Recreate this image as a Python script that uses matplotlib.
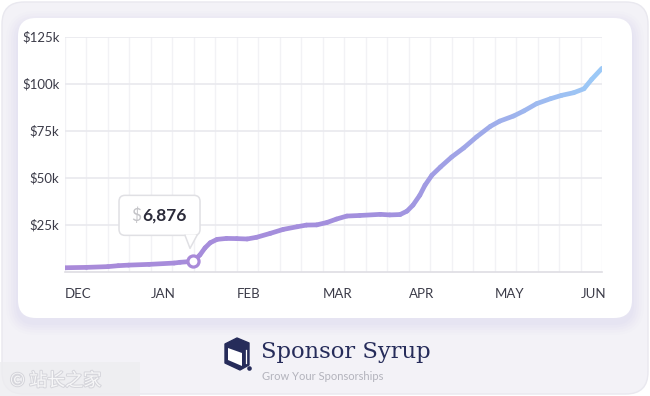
import numpy as np
import matplotlib
matplotlib.use("Agg")
import matplotlib.pyplot as plt
from matplotlib.collections import LineCollection
from matplotlib.colors import LinearSegmentedColormap
from matplotlib.patches import FancyBboxPatch, Polygon, Rectangle, Circle
import matplotlib.patheffects as pe

# months since Dec 1, sponsorship revenue ($)
months = [0.00, 0.25, 0.50, 0.62, 0.74, 0.98, 1.27, 1.34, 1.49,
          1.57, 1.63, 1.69, 1.77, 1.88, 2.00, 2.12, 2.23, 2.39, 2.54, 2.70,
          2.81, 2.93, 3.05, 3.16, 3.28, 3.43, 3.67, 3.78, 3.90, 3.98, 4.05,
          4.13, 4.19, 4.27, 4.37, 4.50, 4.64, 4.79, 4.95, 5.06, 5.22, 5.34,
          5.49, 5.65, 5.78, 5.92, 6.04, 6.13, 6.25]
revenue = [2100, 2300, 2700, 3200, 3500, 3900, 4600, 5000, 5500,
           8900, 12700, 15400, 17200, 17700, 17600, 17400, 18300, 20400, 22500, 23900,
           24800, 24900, 26200, 28000, 29600, 29900, 30500, 30200, 30400, 32200, 35400,
           40700, 46000, 51300, 55700, 61000, 65800, 71700, 77300, 80100, 82800, 85500,
           89400, 92000, 93800, 95200, 97300, 102300, 108200]
month_labels = ["DEC", "JAN", "FEB", "MAR", "APR", "MAY", "JUN"]
y_ticks = [25000, 50000, 75000, 100000, 125000]
y_labels = ["$25k", "$50k", "$75k", "$100k", "$125k"]
hl_idx = 8
hl_text = "6,876"

W, H = 650, 396
fig = plt.figure(figsize=(W / 100, H / 100), dpi=100, facecolor="white")

# background, card, logo (pixel coords)
bg = fig.add_axes([0, 0, 1, 1], zorder=0)
bg.set_xlim(0, W)
bg.set_ylim(H, 0)
bg.axis("off")
bg.add_patch(FancyBboxPatch((2, 2), W - 4, H - 4, boxstyle="round,pad=0,rounding_size=22",
                            fc="#f3f2f7", ec="#e9e8ef", lw=1))
for i, a in enumerate([0.04, 0.05, 0.06, 0.07, 0.08]):
    g = 12 - i * 2.5
    bg.add_patch(FancyBboxPatch((18 - g, 23 - g), 614 + 2 * g, 300 + 2 * g,
                                boxstyle="round,pad=0,rounding_size=%f" % (18 + g),
                                fc="#cbc4e8", ec="none", alpha=a))
bg.add_patch(FancyBboxPatch((18, 18), 614, 300, boxstyle="round,pad=0,rounding_size=18",
                            fc="white", ec="none"))

navy = "#262c5a"
bg.add_patch(Polygon([(237, 338), (249, 343), (249, 365), (240, 370), (225, 363), (225, 344)],
                     closed=True, fc=navy, ec=navy, lw=1, joinstyle="round"))
bg.add_patch(Polygon([(228, 348), (242, 353), (242, 366), (228, 360)], closed=True, fc="white", ec="none"))
bg.plot([245.8, 245.8], [350, 363], color="white", lw=0.9)
bg.add_patch(Circle((249.5, 368.5), 2.3, fc=navy, ec="none"))
bg.text(261, 352, "Sponsor Syrup", fontsize=16.3, family="DejaVu Serif", color=navy,
        va="center", ha="left")
bg.text(262, 376, "Grow Your Sponsorships", fontsize=8, family="Lato", color="#b3b3bc",
        va="center", ha="left")

# watermark
bg.add_patch(Rectangle((0, 362), 140, 34, fc="#ededf0", ec="none", alpha=0.8))
bg.text(10, 381, "© 站长之家", fontsize=13, color="#f7f7f8", va="center", ha="left",
        family=["Noto Sans CJK SC", "DejaVu Sans"],
        path_effects=[pe.withStroke(linewidth=1.5, foreground="#d6d6dc")])

# chart
ax = fig.add_axes([65 / W, 1 - 271.7 / H, 537 / W, 235 / H], zorder=1)
ax.set_facecolor("none")
ax.set_xlim(0, 6.25)
ax.set_ylim(0, 125000)
ax.set_xticks(range(len(month_labels)))
ax.set_xticklabels(month_labels, ha="left")
ax.set_xticks(np.arange(0, 6.26, 0.25), minor=True)
ax.set_yticks(y_ticks)
ax.set_yticklabels(y_labels)
ax.tick_params(axis="both", length=0, labelsize=9.5, labelcolor="#3b3b48")
ax.tick_params(axis="x", which="both", length=0, pad=12)
ax.tick_params(axis="y", pad=4)
for lab in ax.get_xticklabels() + ax.get_yticklabels():
    lab.set_family("Lato")
ax.grid(axis="x", which="both", color="#f2f2f5", lw=1)
ax.grid(axis="y", which="major", color="#e9e9ee", lw=1.2)
for s in ["top", "right", "left"]:
    ax.spines[s].set_visible(False)
ax.spines["bottom"].set_color("#dedde3")
ax.spines["bottom"].set_linewidth(1.2)
ax.set_axisbelow(True)

cmap = LinearSegmentedColormap.from_list("syrup", [(0, "#a98ad9"), (0.6, "#a290de"), (1, "#9ccaf7")])
x = np.array(months)
y = np.array(revenue)
pts = np.column_stack([x, y]).reshape(-1, 1, 2)
segs = np.concatenate([pts[:-1], pts[1:]], axis=1)
mid = (x[:-1] + x[1:]) / 2 / x.max()
lc = LineCollection(segs, colors=cmap(mid), linewidths=3.4, capstyle="round", joinstyle="round", zorder=3)
ax.add_collection(lc)
ax.plot(months[hl_idx], revenue[hl_idx], "o", ms=8, mfc="white", mec="#a98ad9", mew=2.3, zorder=5)

# tooltip, placed relative to the highlighted point
tip = fig.add_axes([0, 0, 1, 1], zorder=3)
tip.set_xlim(0, W)
tip.set_ylim(H, 0)
tip.axis("off")
dx, dy = ax.transData.transform((months[hl_idx], revenue[hl_idx]))
mx, my = dx, H - dy
bx0, bx1, by0, by1 = mx - 74, mx + 7, my - 66, my - 26
box = FancyBboxPatch((bx0, by0), bx1 - bx0, by1 - by0, boxstyle="round,pad=0,rounding_size=6",
                     fc="white", ec="#e0e0e4", lw=1.1)
tip.add_patch(box)
tip.add_patch(Polygon([(mx - 8, by1 - 0.6), (mx - 3, my - 13), (mx + 4, by1 - 0.6)],
                      closed=True, fc="white", ec="none", zorder=3))
tip.plot([mx - 8, mx - 3, mx + 4], [by1, my - 13, by1], color="#e0e0e4", lw=1.1, zorder=4)
tip.text(mx - 51.5, by0 + 20, "$", fontsize=12.5, family="Lato", color="#c4c4c8",
         ha="right", va="center")
tip.text(mx - 51, by0 + 20, hl_text, fontsize=12.5, family="Lato", weight="bold",
         color="#2b2b3a", ha="left", va="center")

fig.savefig("out.png", dpi=100, facecolor="white")
